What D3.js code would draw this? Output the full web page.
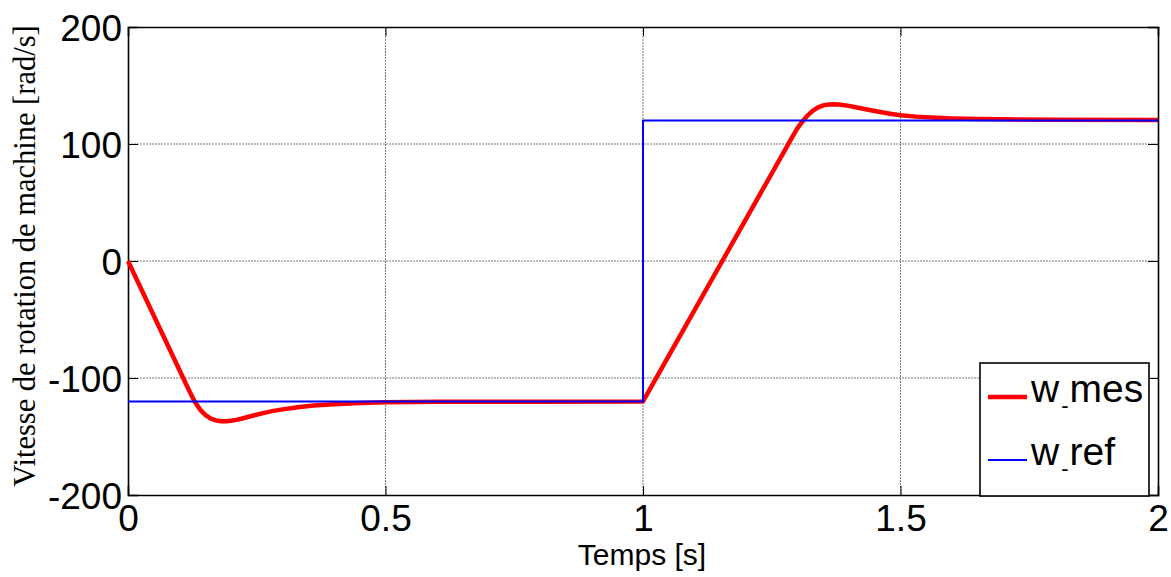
<!DOCTYPE html>
<html>
<head>
<meta charset="utf-8">
<script src="https://cdn.jsdelivr.net/npm/d3@7"></script>
<style>
  body { margin: 0; background: #fff; }
  svg { display: block; }
</style>
</head>
<body>
<div id="graph"><svg></svg></div>
<script>
// data
let tMes = [0, 0.06, 0.12, 0.13, 0.14, 0.15, 0.16, 0.17, 0.18, 0.19, 0.2, 0.21, 0.22, 0.24, 0.26, 0.28, 0.3, 0.33, 0.36, 0.4, 0.45, 0.5, 0.6, 0.8, 1.0,
  1.29, 1.3, 1.31, 1.32, 1.33, 1.34, 1.35, 1.36, 1.37, 1.38, 1.4, 1.42, 1.45, 1.48, 1.5, 1.53, 1.56, 1.6, 1.65, 1.7, 1.8, 2.0];
let wMes = [0, -56, -112, -120.5, -127, -131.5, -134.5, -136.2, -137, -137, -136.6, -135.8, -134.8, -132.5, -130.2, -128.3, -126.8, -125, -123.6, -122.4, -121.4, -120.8, -120.4, -120.2, -120,
  106, 113.5, 119.5, 124.5, 128.5, 131.3, 133, 133.8, 134, 133.8, 132.6, 130.8, 128.2, 125.8, 124.6, 123.4, 122.6, 121.9, 121.4, 121.1, 120.8, 120.6];
let tRef = [0, 1, 1, 2];
let wRef = [-120, -120, 120, 120];

let xTicks = [0, 0.5, 1, 1.5, 2];
let yTicks = [-200, -100, 0, 100, 200];
let legendLabels = [["w", "mes"], ["w", "ref"]];

// Margin Convention
let margins = { top: 27, right: 13, bottom: 82, left: 128 };
let outerWidth = 1171;
let outerHeight = 577;
let innerWidth = outerWidth - margins.left - margins.right;
let innerHeight = outerHeight - margins.top - margins.bottom;

let root = d3.select("div#graph svg")
  .attr("width", outerWidth)
  .attr("height", outerHeight);

let svg = root.append("g")
  .attr("id", "plot-area")
  .attr("transform", "translate(" + margins.left + "," + margins.top + ")");

let xScale = d3.scaleLinear().domain([0, 2]).range([0, innerWidth]);
let yScale = d3.scaleLinear().domain([-200, 200]).range([innerHeight, 0]);

// grid lines
svg.append("g")
  .selectAll("line")
  .data(xTicks.slice(1, -1))
  .enter()
  .append("line")
  .attr("x1", (d) => xScale(d))
  .attr("x2", (d) => xScale(d))
  .attr("y1", 0)
  .attr("y2", innerHeight)
  .style("stroke", "#7a7a7a")
  .style("stroke-width", 1)
  .style("stroke-dasharray", "2,1");

svg.append("g")
  .selectAll("line")
  .data(yTicks.slice(1, -1))
  .enter()
  .append("line")
  .attr("x1", 0)
  .attr("x2", innerWidth)
  .attr("y1", (d) => yScale(d))
  .attr("y2", (d) => yScale(d))
  .style("stroke", "#7a7a7a")
  .style("stroke-width", 1)
  .style("stroke-dasharray", "2,1");

// axes, ticks pointing inwards (plain hyphen for minus, like the original)
let plain = (d) => String(d);
let xAxis = svg.append("g")
  .attr("transform", "translate(0," + innerHeight + ")")
  .call(d3.axisBottom(xScale).tickValues(xTicks).tickSize(-9).tickFormat(plain));
let yAxis = svg.append("g")
  .call(d3.axisLeft(yScale).tickValues(yTicks).tickSize(-10).tickFormat(plain));
svg.append("g")
  .call(d3.axisTop(xScale).tickValues(xTicks).tickSize(-9).tickFormat(""));
svg.append("g")
  .attr("transform", "translate(" + innerWidth + ",0)")
  .call(d3.axisRight(yScale).tickValues(yTicks).tickSize(-10).tickFormat(""));

svg.selectAll(".domain").style("stroke", "#000").style("stroke-width", 1.6);
svg.selectAll(".tick line").style("stroke", "#000").style("stroke-width", 1);

xAxis.selectAll("text")
  .style("font-family", "Liberation Sans, Arial, sans-serif")
  .style("font-size", "37px")
  .style("fill", "#000")
  .attr("y", 10)
  .attr("dy", "0.71em");
yAxis.selectAll("text")
  .style("font-family", "Liberation Sans, Arial, sans-serif")
  .style("font-size", "37px")
  .style("fill", "#000")
  .attr("x", -6)
  .attr("dy", "0.36em");

// lines
let refLine = d3.line()
  .x((d, i) => xScale(tRef[i]))
  .y((d) => yScale(d));
let mesLine = d3.line()
  .x((d, i) => xScale(tMes[i]))
  .y((d) => yScale(d));

svg.append("path")
  .datum(wMes)
  .attr("d", mesLine)
  .style("fill", "none")
  .style("stroke", "#ff0000")
  .style("stroke-width", 4.5)
  .style("stroke-linejoin", "round");

svg.append("path")
  .datum(wRef)
  .attr("d", refLine)
  .style("fill", "none")
  .style("stroke", "#0000ff")
  .style("stroke-width", 2);

// legend
let legend = svg.append("g")
  .attr("transform", "translate(" + (980 - margins.left) + "," + (363 - margins.top) + ")");
legend.append("rect")
  .attr("width", 169)
  .attr("height", 133)
  .style("fill", "#fff")
  .style("stroke", "#000")
  .style("stroke-width", 1.6);

let legendColors = ["#ff0000", "#0000ff"];
let legendWidths = [4.5, 2];
legendLabels.forEach(function (lab, i) {
  let yy = 34 + i * 63;
  legend.append("line")
    .attr("x1", 8).attr("x2", 47)
    .attr("y1", yy).attr("y2", yy)
    .style("stroke", legendColors[i])
    .style("stroke-width", legendWidths[i]);
  let t = legend.append("text")
    .attr("x", 51)
    .attr("y", yy + 5)
    .style("font-family", "Liberation Sans, Arial, sans-serif")
    .style("font-size", "39px")
    .style("fill", "#000");
  t.append("tspan").text(lab[0]);
  t.append("tspan").attr("dy", 11).attr("dx", 2).style("font-size", "22px").text("-");
  t.append("tspan").attr("dy", -11).attr("dx", 1).text(lab[1]);
});

// axis titles
root.append("text")
  .attr("x", 642)
  .attr("y", 565)
  .attr("text-anchor", "middle")
  .style("font-family", "Liberation Sans, Arial, sans-serif")
  .style("font-size", "30px")
  .style("fill", "#000")
  .text("Temps [s]");

root.append("text")
  .attr("transform", "translate(35,256) rotate(-90)")
  .attr("text-anchor", "middle")
  .style("font-family", "Liberation Serif, Times New Roman, serif")
  .style("font-size", "30.5px")
  .style("fill", "#000")
  .text("Vitesse de rotation de machine [rad/s]");
</script>
</body>
</html>
